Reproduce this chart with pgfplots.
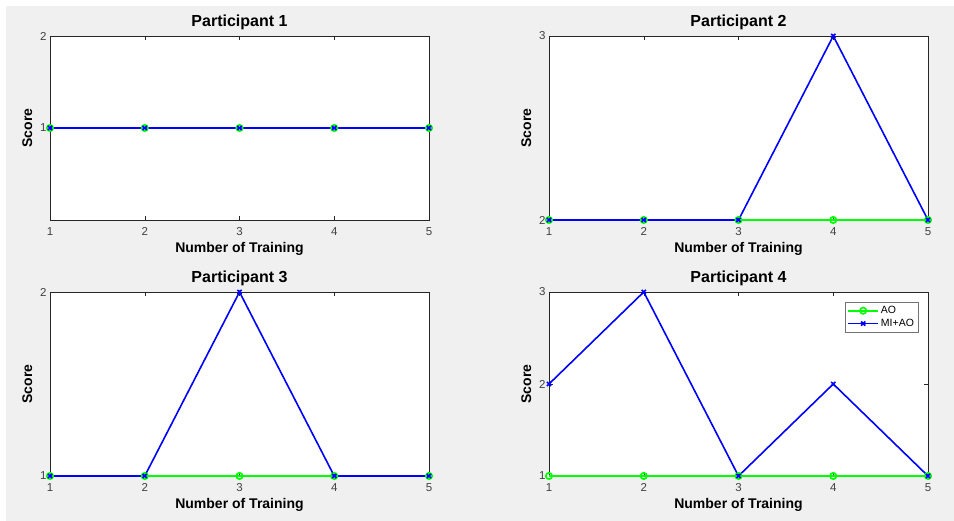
\documentclass[border=0pt]{standalone}
\usepackage{fontspec}
\setmainfont{Liberation Sans}
\usepackage{pgfplots}
\pgfplotsset{compat=1.18}
\definecolor{axgray}{RGB}{38,38,38}
\definecolor{ticktext}{RGB}{64,64,64}
\definecolor{figbg}{RGB}{240,240,240}
\pgfplotsset{
  mstyle/.style={
    scale only axis, width=379pt, height=184pt,
    xmin=1, xmax=5, xtick={1,2,3,4,5},
    tick align=inside, major tick length=4pt,
    axis line style={draw=axgray, line width=0.6pt},
    tick style={draw=axgray, line width=0.5pt},
    axis background/.style={fill=white},
    tick label style={font=\fontsize{11.5}{12}\selectfont, text=ticktext},
    xticklabel style={yshift=-4pt},
    /pgf/number format/assume math mode=true,
    title style={font=\bfseries\fontsize{16}{18}\selectfont, yshift=-3pt},
    xlabel style={font=\bfseries\fontsize{14}{15}\selectfont, yshift=0pt},
    ylabel style={font=\bfseries\fontsize{14}{15}\selectfont, yshift=1pt},
    xlabel={Number of Training}, ylabel={Score},
    clip=false,
    legend cell align=left,
    legend style={font=\fontsize{10.5}{12}\selectfont, draw=black!55,
      inner sep=2pt, row sep=0pt},
    legend image code/.code={\draw[mark repeat=2,mark phase=2,#1] plot coordinates {(0pt,0pt) (15pt,0pt) (30pt,0pt)};},
  },
  ao/.style={draw={rgb,1:red,0;green,1;blue,0}, line width=1.6pt, mark=o, mark size=3.2pt,
    mark options={solid, line width=1.6pt}},
  mi/.style={draw={rgb,1:red,0;green,0;blue,1}, line width=1.6pt, mark=x, mark size=3pt,
    mark options={solid, line width=1.6pt}},
}
\begin{document}
\begin{tikzpicture}[x=1pt,y=1pt]
\path[fill=white] (0,0) rectangle (954,521);
\path[fill=figbg] (6,0) rectangle (954,515);
% Participant 1
\begin{axis}[mstyle, at={(50pt,301pt)}, anchor=south west,
  title={Participant 1}, ymin=0, ymax=2, ytick={1,2}]
\addplot[ao] coordinates {(1,1) (2,1) (3,1) (4,1) (5,1)};
\addplot[mi] coordinates {(1,1) (2,1) (3,1) (4,1) (5,1)};
\end{axis}
% Participant 2
\begin{axis}[mstyle, at={(549pt,301pt)}, anchor=south west,
  title={Participant 2}, ymin=2, ymax=3, ytick={2,3}]
\addplot[ao] coordinates {(1,2) (2,2) (3,2) (4,2) (5,2)};
\addplot[mi] coordinates {(1,2) (2,2) (3,2) (4,3) (5,2)};
\end{axis}
% Participant 3
\begin{axis}[mstyle, at={(50pt,45pt)}, anchor=south west,
  title={Participant 3}, ymin=1, ymax=2, ytick={1,2}]
\addplot[ao] coordinates {(1,1) (2,1) (3,1) (4,1) (5,1)};
\addplot[mi] coordinates {(1,1) (2,1) (3,2) (4,1) (5,1)};
\end{axis}
% Participant 4
\begin{axis}[mstyle, at={(549pt,45pt)}, anchor=south west,
  title={Participant 4}, ymin=1, ymax=3, ytick={1,2,3},
  legend style={at={(0.974,0.945)}, anchor=north east}]
\addplot[ao] coordinates {(1,1) (2,1) (3,1) (4,1) (5,1)};
\addlegendentry{AO}
\addplot[mi] coordinates {(1,2) (2,3) (3,1) (4,2) (5,1)};
\addlegendentry{MI+AO}
\end{axis}
\end{tikzpicture}
\end{document}
